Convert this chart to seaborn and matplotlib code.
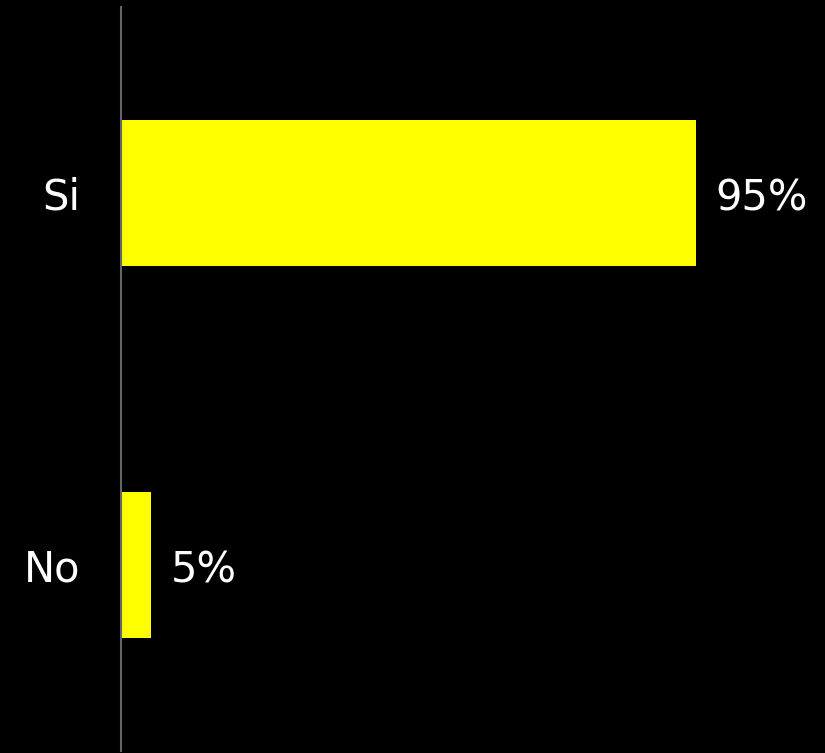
import matplotlib
matplotlib.use("Agg")
import matplotlib.pyplot as plt
import seaborn as sns
import pandas as pd

# data
answers = ["Si", "No"]
percent = [95, 5]

df = pd.DataFrame({"answer": answers, "percent": percent})

sns.set_style("white")
plt.rcParams['font.family'] = ['DejaVu Sans']

fig = plt.figure(figsize=(8.25, 7.53), dpi=100, facecolor="black")
ax = fig.add_axes([121 / 825, 2 / 753, 605 / 825, 744 / 753])
ax.set_facecolor("black")

sns.barplot(data=df, x="percent", y="answer", color="#ffff00", saturation=1,
            width=0.39, linewidth=0, ax=ax)

ax.set_xlim(0, 100)
ax.set_ylim(1.5, -0.5)

for i, v in enumerate(percent):
    ax.annotate(f"{v}%", xy=(v, i), xytext=(14, -4), textcoords="offset points",
                va="center", ha="left", color="white", fontsize=30)

ax.set_xlabel("")
ax.set_ylabel("")
ax.set_xticks([])
ax.tick_params(axis="y", length=0, pad=29, labelsize=30, labelcolor="white")
for side in ["top", "right", "bottom"]:
    ax.spines[side].set_visible(False)
ax.spines["left"].set_color("#666666")
ax.spines["left"].set_linewidth(1.5)

fig.savefig("out.png", dpi=100, facecolor="black")
